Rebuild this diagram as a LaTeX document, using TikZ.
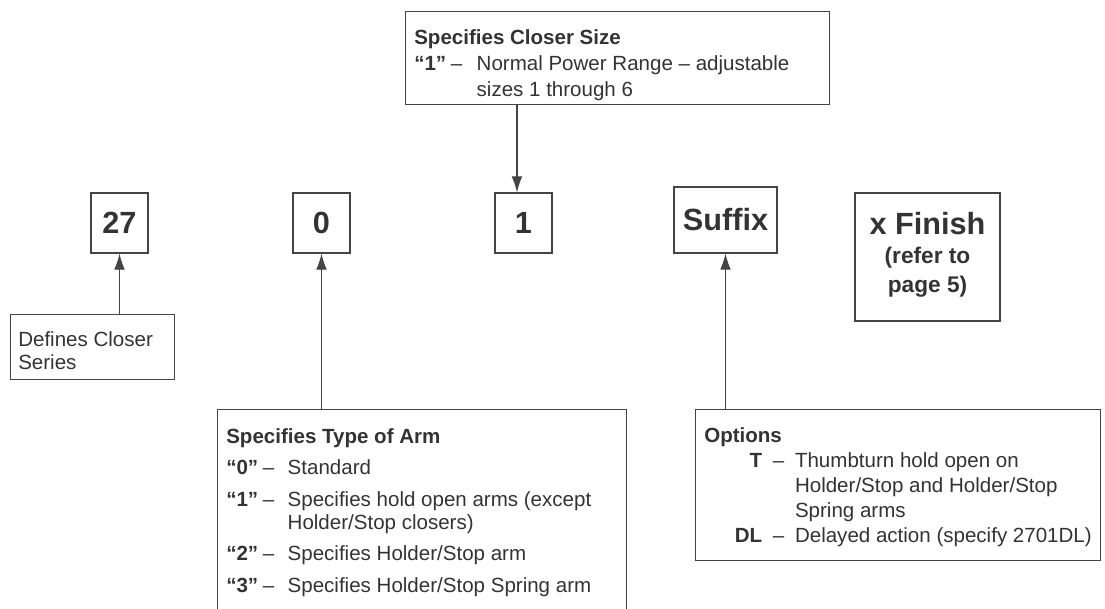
\documentclass[tikz,border=0pt]{standalone}
\usepackage{fontspec}
\setmainfont{Liberation Sans}
\usepackage{array}
\usetikzlibrary{arrows.meta}
\definecolor{ink}{HTML}{333333}
\definecolor{rule}{HTML}{444444}
\newcolumntype{E}[4]{w{#1}{#2}@{\hspace{#3}}c@{\hspace{#4}}l}
\tikzset{
  frame/.style={draw=rule,line width=0.9pt,inner sep=0pt},
  code/.style={frame,text=ink,font=\bfseries\fontsize{23}{27}\selectfont},
  small/.style={minimum width=42.75pt,minimum height=45pt},
  txt/.style={inner sep=0pt,anchor=base west,text=ink},
  ptr/.style={draw=rule,line width=0.8pt,-{Latex[length=12pt,width=8pt]}}
}

\begin{document}
\begin{tikzpicture}[x=0.75pt,y=-0.75pt]
  \useasboundingbox (0,0) rectangle (1105,609);
  \node[code,small] (series) at (119.5,223) {27};
  \node[code,small] (zero) at (321.5,223) {0};
  \node[code,small] (one) at (523.5,223) {1};
  \node[code,minimum width=77.25pt,minimum height=49.5pt] (suffix) at (725.5,220) {Suffix};
  \node[code,minimum width=108.75pt,minimum height=96pt] (finish) at (927.5,257)
    {\fontsize{17}{21.75}\selectfont\begin{tabular}{@{}c@{}}
      {\fontsize{23}{27}\selectfont x Finish}\\
      (refer to\\
      page 5)
    \end{tabular}};

  \node[frame,anchor=north west,minimum width=318pt,minimum height=69.75pt] (sizebox) at (405,11) {};
  \node[txt,font=\fontsize{15.4}{19.3}\selectfont] (sizetxt) at (414,45)
    {\begin{tabular}[t]{@{}E{l}{24pt}{3.5pt}{10.75pt}@{}}
      \multicolumn{3}{@{}l@{}}{\textbf{Specifies Closer Size}}\\
      \textbf{“1”} & – & Normal Power Range – adjustable\\
      & & sizes 1 through 6
    \end{tabular}};

  \node[frame,anchor=north west,minimum width=123pt,minimum height=48.75pt] (defbox) at (10,314) {};
  \node[txt,font=\fontsize{15.4}{17.25}\selectfont] (deftxt) at (18,346.5)
    {\begin{tabular}[t]{@{}l@{}}
      Defines Closer\\
      Series
    \end{tabular}};

  \node[frame,anchor=north west,minimum width=306.75pt,minimum height=172.5pt] (armbox) at (217,409) {};
  \node[txt,font=\fontsize{15.4}{17.25}\selectfont] (armtxt) at (226,443)
    {\begin{tabular}[t]{@{}E{l}{24pt}{3.5pt}{10pt}@{}}
      \multicolumn{3}{@{}l@{}}{\textbf{Specifies Type of Arm}}\\[6.4pt]
      \textbf{“0”} & – & Standard\\[6.4pt]
      \textbf{“1”} & – & Specifies hold open arms (except\\
      & & Holder/Stop closers)\\[6.4pt]
      \textbf{“2”} & – & Specifies Holder/Stop arm\\[6.4pt]
      \textbf{“3”} & – & Specifies Holder/Stop Spring arm
    \end{tabular}};

  \node[frame,anchor=north west,minimum width=303.75pt,minimum height=113.25pt] (optbox) at (695,409) {};
  \node[txt,font=\fontsize{15.4}{18.9}\selectfont] (opttxt) at (704,442)
    {\begin{tabular}[t]{@{}E{r}{43.5pt}{8pt}{8pt}@{}}
      \multicolumn{3}{@{}l@{}}{\textbf{Options}}\\
      \textbf{T} & – & Thumbturn hold open on\\
      & & Holder/Stop and Holder/Stop\\
      & & Spring arms\\
      \textbf{DL} & – & Delayed action (specify 2701DL)
    \end{tabular}};

  \coordinate (onetip) at ([xshift=-4.9pt]one.north);
  \draw[ptr] (sizebox.south -| onetip) -- (onetip);
  \draw[ptr] (defbox.north -| series.south) -- (series.south);
  \draw[ptr] (armbox.north -| zero.south) -- (zero.south);
  \draw[ptr] (optbox.north -| suffix.south) -- (suffix.south);
\end{tikzpicture}
\end{document}
